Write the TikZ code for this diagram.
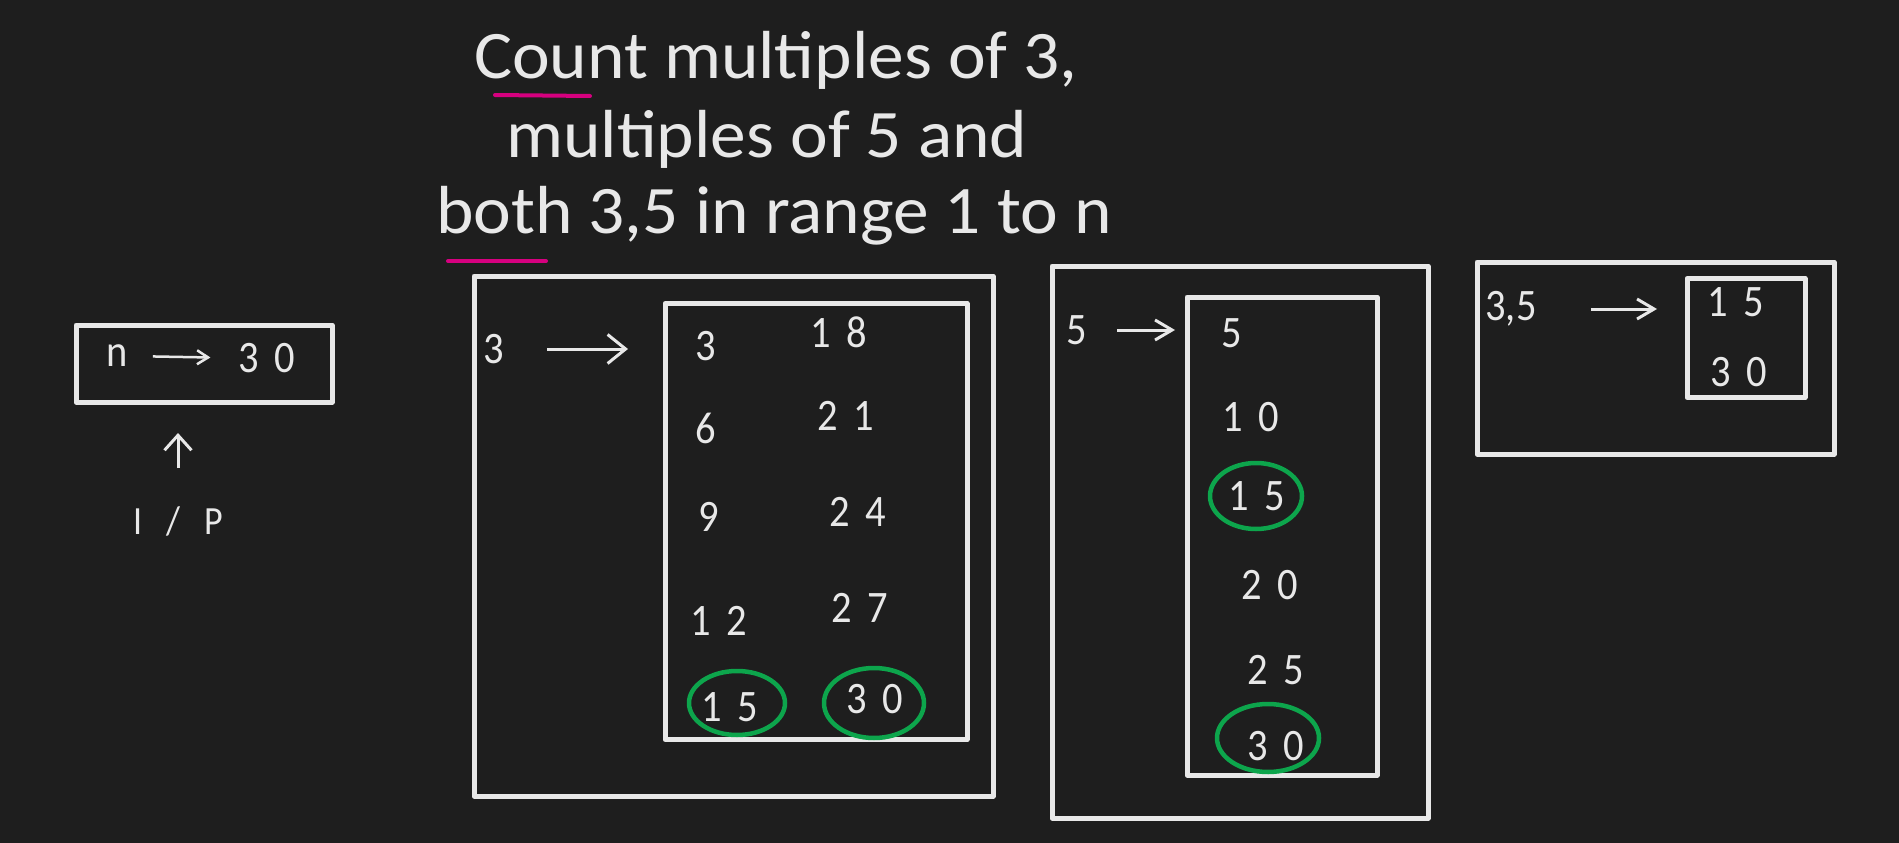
\documentclass[tikz,border=0pt]{standalone}
\usepackage{fontspec}
\usetikzlibrary{arrows.meta}
\newfontfamily\handfont[FakeStretch=1.05]{Carlito}
\newfontfamily\labelfont[FakeStretch=0.9]{Carlito}
\newfontfamily\digitfont[FakeStretch=0.9,LetterSpace=35]{Carlito}
\newcommand\wideskip{\spaceskip 24pt\relax}
\definecolor{board}{HTML}{1E1E1E}
\definecolor{chalk}{HTML}{E8E8E8}
\definecolor{hitgreen}{HTML}{0DA54C}
\definecolor{marker}{HTML}{D6007F}

\begin{document}
\begin{tikzpicture}[x=1pt,y=-1pt, % pixel units, y runs down
  panel/.style={draw=chalk, line width=5pt, line join=round, inner sep=0pt, outer sep=0pt},
  num/.style={text=chalk, font=\digitfont\fontsize{45}{45}\selectfont, inner sep=0pt},
  lbl/.style={text=chalk, font=\labelfont\fontsize{45}{45}\selectfont, inner sep=0pt},
  ttl/.style={text=chalk, font=\handfont\fontsize{68}{77}\selectfont, anchor=base, inner sep=0pt},
  arr/.style={draw=chalk, line width=3pt, -{Straight Barb[length=17pt,width=20pt]}},
  arrbig/.style={draw=chalk, line width=3pt, -{Straight Barb[length=18pt,width=29pt]}},
  hit/.style={draw=hitgreen, line width=4.5pt},
  markline/.style={draw=marker, line width=4pt, line cap=round}]
\fill[board] (0,0) rectangle (1899,843); % background

% title
\node[ttl] (title1) at (776,78) {Count multiples of 3,};
\node[ttl] (title2) at (767,157) {multiples of 5 and};
\node[ttl] (title3) at (774,233) {both 3,5 in range 1 to n};
\draw[markline] (495,95) -- (590,96); % under Count
\draw[markline] (448,261) -- (546,261); % under both

% input
\node[panel, minimum width=256pt, minimum height=77pt] (inbox) at (204,363.5) {};
\node[lbl] (nvar) at (117,356) {n};
\node[num] (nval) at (267,358) {30};
\draw[arr, line width=2.5pt, -{Straight Barb[length=11pt,width=14pt]}, shorten <=25pt, shorten >=28pt] (nvar.east) -- (nval.west);
\node[lbl, font=\labelfont\fontsize{40}{40}\selectfont\wideskip] (ip) at (178,521) {I / P};
\draw[arrbig, -{Straight Barb[length=15pt,width=27pt]}, shorten <=38pt, shorten >=31pt] (ip.north) -- (ip.north |- inbox.south);

% multiples of 3
\node[panel, minimum width=519pt, minimum height=520pt] (outer3) at (733.5,536) {};
\node[panel, minimum width=302pt, minimum height=436pt] (inner3) at (816,521.5) {};
\node[lbl] (lbl3) at (494,349) {3};
\draw[arrbig, shorten <=43pt, shorten >=37pt] (lbl3.east) -- (lbl3.east -| inner3.west);
\node[num] (m3) at (706,346) {3};
\node[num] (m6) at (706,428) {6};
\node[num] (m9) at (709,517) {9};
\node[num] (m12) at (719,621) {12};
\node[num] (m15) at (730,707) {15};
\node[num] (m18) at (839,332) {18};
\node[num] (m21) at (846,416) {21};
\node[num] (m24) at (858,512) {24};
\node[num] (m27) at (860,608) {27};
\node[num] (m30) at (875,699) {30};
\draw[hit] (737,703) ellipse [x radius=48, y radius=32];
\draw[hit] (874,703) ellipse [x radius=50, y radius=35];

% multiples of 5
\node[panel, minimum width=376pt, minimum height=552pt] (outer5) at (1240,542) {};
\node[panel, minimum width=190pt, minimum height=478pt] (inner5) at (1282,536) {};
\node[lbl] (lbl5) at (1077,330) {5};
\draw[arr, shorten <=30pt, shorten >=12pt] (lbl5.east) -- (lbl5.east -| inner5.west);
\node[num] (f5) at (1232,333) {5};
\node[num] (f10) at (1251,417) {10};
\node[num] (f15) at (1257,496) {15};
\node[num] (f20) at (1270,585) {20};
\node[num] (f25) at (1276,670) {25};
\node[num] (f30) at (1276,746) {30};
\draw[hit] (1256,496) ellipse [x radius=46, y radius=33];
\draw[hit] (1268,738) ellipse [x radius=51, y radius=34];

% both 3 and 5
\node[panel, minimum width=357pt, minimum height=192pt] (outer35) at (1655.5,358) {};
\node[panel, minimum width=118pt, minimum height=119pt] (inner35) at (1746,338) {};
\node[lbl] (lbl35) at (1511,309) {3,5};
\draw[arr, shorten <=54pt, shorten >=30pt] (lbl35.east) -- (lbl35.east -| inner35.west);
\node[num] (b15) at (1736,302) {15};
\node[num] (b30) at (1739,372) {30};
\end{tikzpicture}
\end{document}
